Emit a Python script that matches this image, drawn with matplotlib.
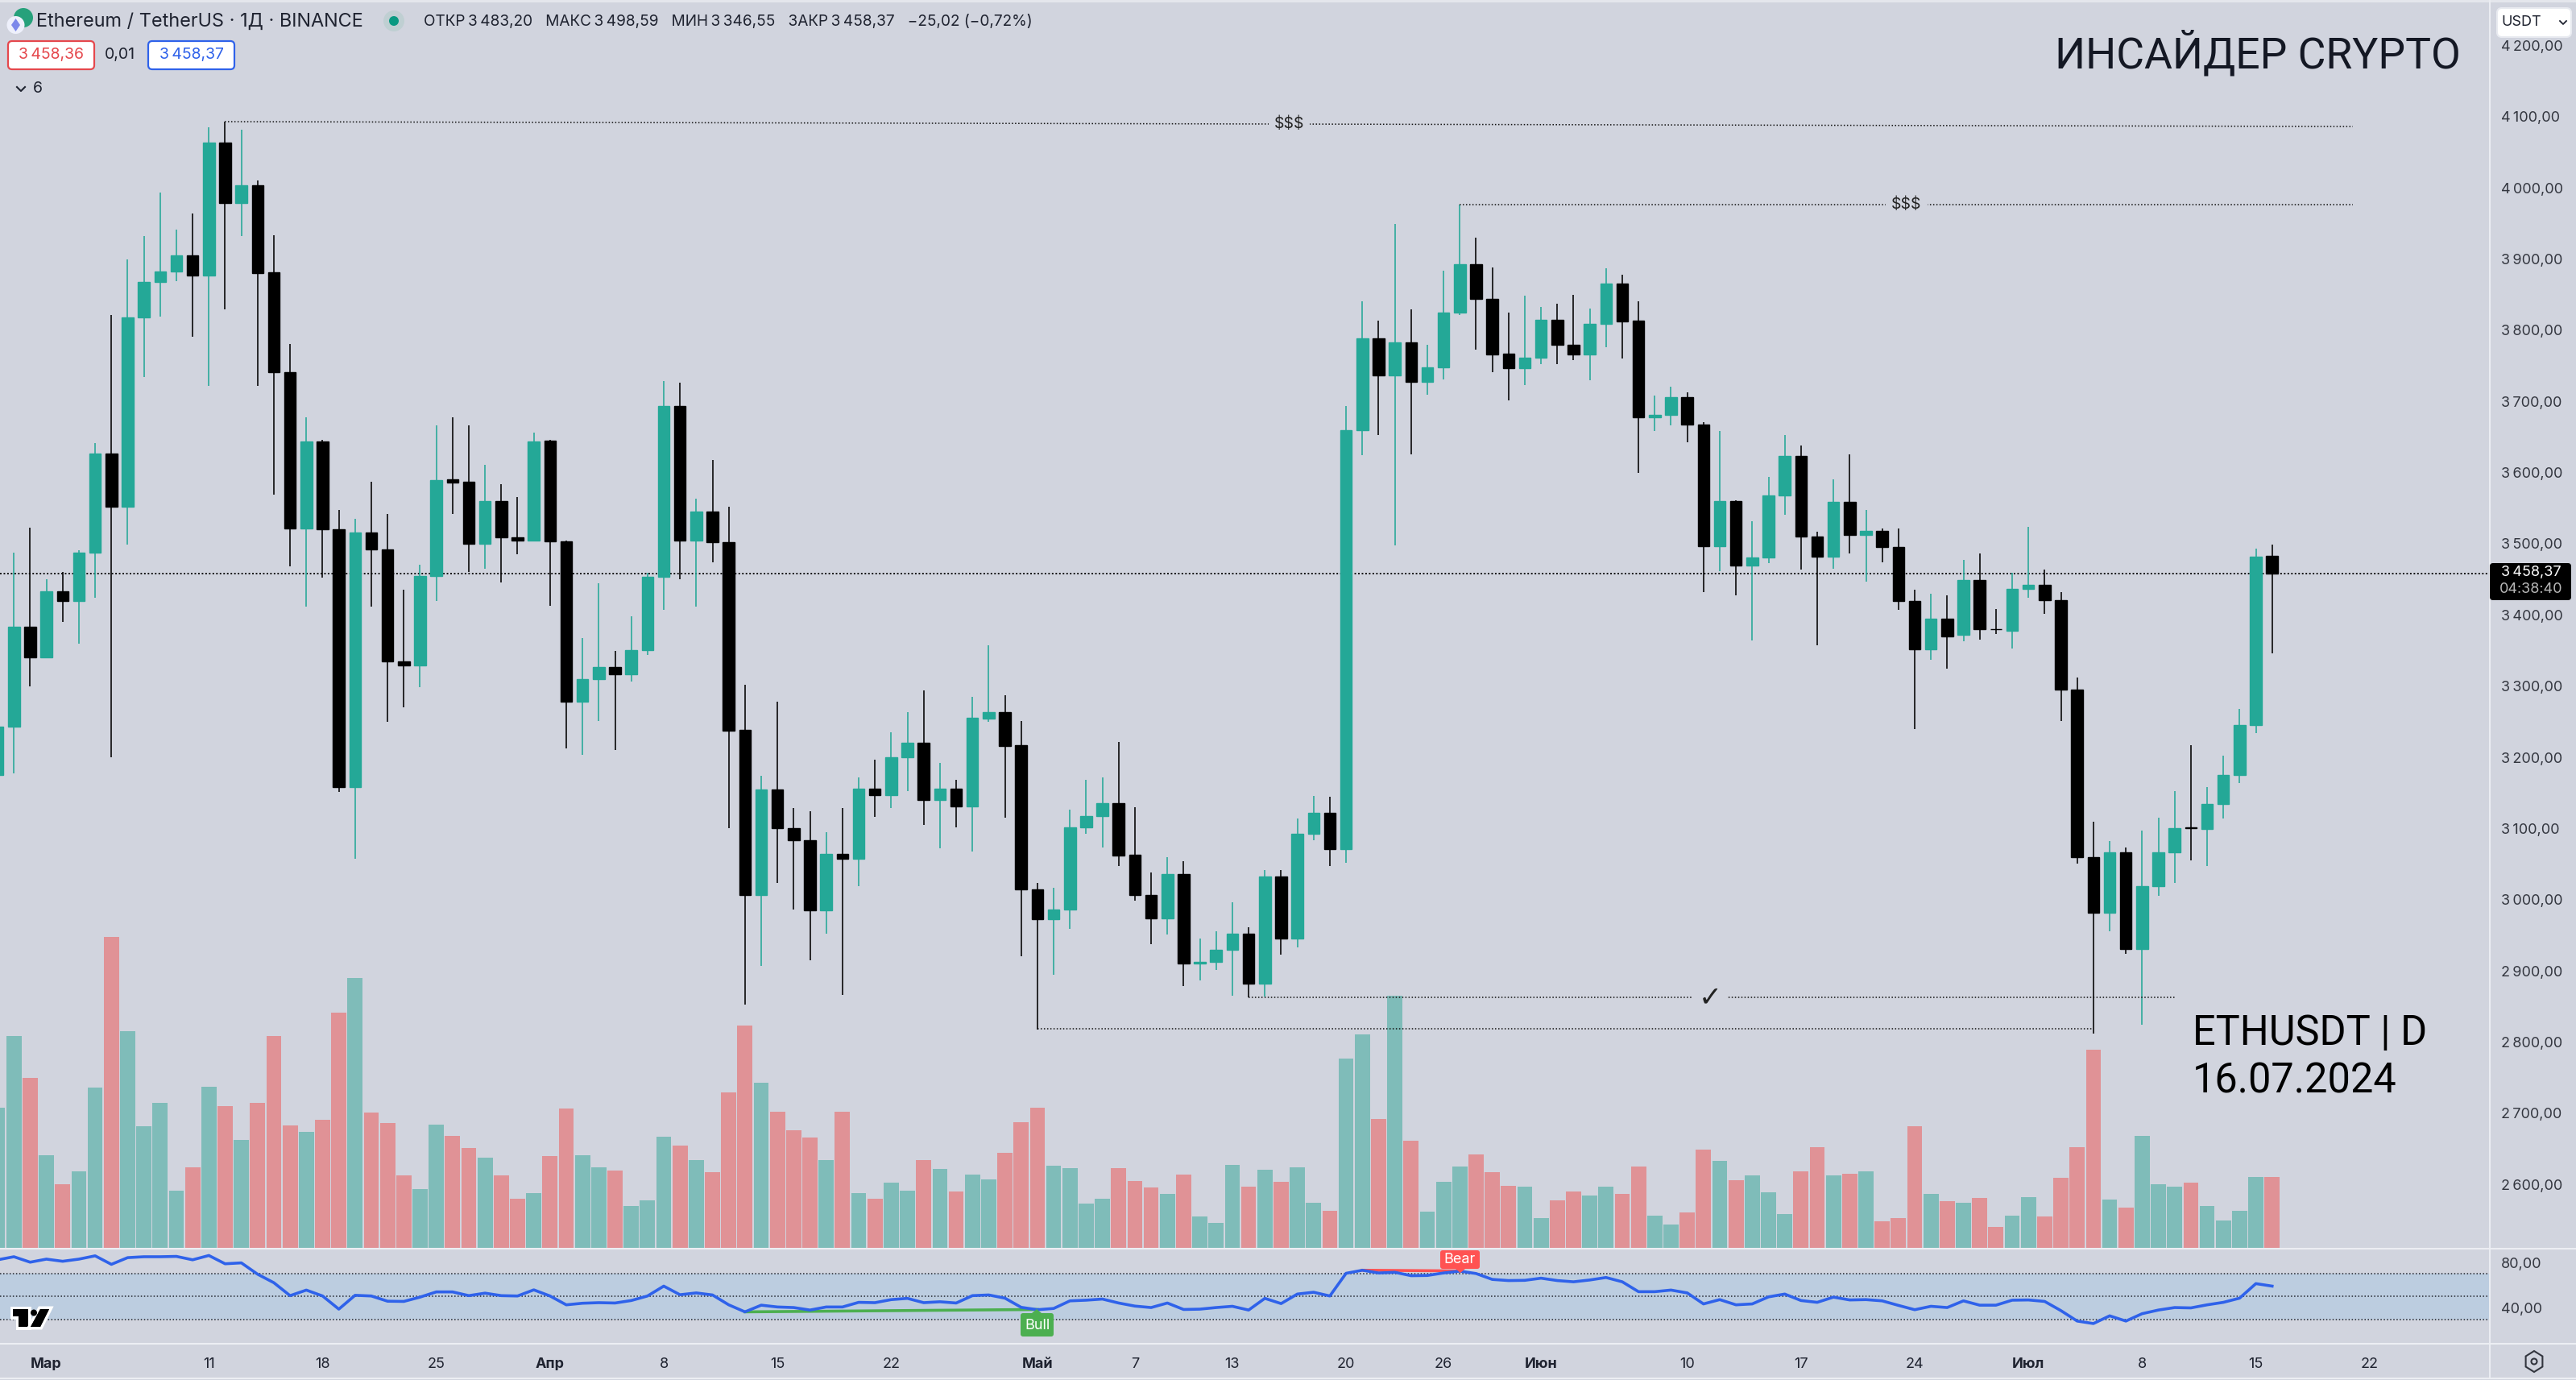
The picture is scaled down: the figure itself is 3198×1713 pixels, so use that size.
import numpy as np
import pandas as pd
import matplotlib
matplotlib.use("Agg")
import matplotlib.pyplot as plt
import matplotlib.dates as mdates
import matplotlib.patheffects as pe
from matplotlib.patches import FancyBboxPatch, Polygon, Circle, Rectangle

plt.rcParams['font.family'] = ['Inter', 'DejaVu Sans']

# ---------- data ----------
start_date = '2024-02-27'
opens = [3175,3243,3383,3340,3433,3420,3487,3627,3552,3818,3868,3882,3905,3877,4064,3979,4004,3881,3741,3522,
         3644,3520,3158,3516,3492,3335,3329,3455,3590,3587,3500,3560,3509,3504,3645,3503,3278,3310,3327,3317,
         3351,3454,3694,3505,3545,3502,3238,3006,3155,3101,3084,2985,3064,3057,3156,3147,3200,3220,3140,3156,
         3131,3254,3263,3217,3014,2973,2986,3102,3117,3136,3063,3006,2974,3036,2910,2912,2929,2952,2882,3033,
         2945,3092,3122,3071,3660,3789,3737,3783,3727,3748,3825,3893,3844,3767,3747,3761,3815,3780,3766,3809,
         3866,3813,3678,3681,3706,3667,3497,3560,3469,3481,3568,3623,3510,3482,3559,3512,3518,3495,3420,3352,
         3395,3372,3449,3380.2,3378,3437,3442,3421,3295,3060,2982,3067,2931,3019,3067,3101.3,3099,3134,3175,3245,3483.2]
highs = [3250,3487,3523,3450,3460,3491,3641,3821,3899,3932,3993,3941,3964,4085,4093,4082,4010,3933,3781,3678,
         3646,3547,3535,3587,3542,3435,3470,3666,3678,3666,3611,3584,3566,3656,3646,3505,3367,3444,3349,3398,
         3459,3729,3726,3563,3618,3552,3302,3174,3278,3129,3124,3095,3129,3172,3197,3235,3263,3294,3192,3168,
         3285,3357,3287,3251,3024,3017,3127,3168,3172,3221,3130,3038,3060,3054,2945,2955,2996,2961,3042,3042,
         3114,3146,3145,3693,3841,3813,3949,3829,3779,3884,3976,3930,3888,3825,3849,3833,3837,3850,3830,3887,
         3878,3841,3708,3721,3713,3671,3658,3561,3532,3594,3653,3638,3517,3590,3626,3547,3521,3521,3435,3430,
         3427,3477,3486,3408,3459,3524,3464,3432,3312,3110,3082,3073,3097,3115,3152,3217,3158,3202,3268,3493,3498.59]
lows = [3170,3177,3300,3339,3390,3360,3424,3200,3499,3734,3819,3869,3791,3722,3829,3932,3722,3569,3468,3412,
        3453,3151,3057,3412,3250,3270,3299,3420,3542,3460,3465,3446,3485,3504,3413,3213,3204,3251,3210,3307,
        3344,3407,3450,3412,3474,3101,2853,2907,3024,2986,2915,2952,2866,3019,3116,3129,3152,3105,3072,3102,
        3068,3250,3115,2921,2818,2894,2959,3093,3073,3047,2999,2937,2951,2879,2887,2901,2865,2863,2864,2923,
        2933,3083,3047,3052,3624,3653,3498,3626,3709,3731,3822,3773,3741,3702,3723,3752,3752,3758,3730,3776,
        3760,3600,3659,3666,3643,3432,3462,3428,3364,3473,3541,3464,3357,3465,3486,3447,3474,3407,3240,3337,
        3325,3363,3365,3373,3353,3424,3402,3251,3051,2812,2955,2924,2824,3005,3024,3055,3047,3114,3164,3234,3346.55]
closes = [3243,3383,3340,3433,3420,3487,3627,3552,3818,3868,3882,3905,3877,4064,3979,4004,3880,3741,3522,3644,
          3520,3158,3516,3492,3335,3329,3455,3589,3586,3500,3560,3509,3504,3644,3503,3278,3310,3327,3317,3351,
          3454,3694,3505,3545,3502,3237,3006,3155,3101,3083,2985,3064,3057,3156,3147,3200,3220,3140,3156,3131,
          3255,3263,3216,3014,2973,2986,3102,3117,3136,3062,3006,2974,3036,2910,2912,2929,2952,2882,3033,2945,
          3092,3122,3071,3660,3789,3737,3783,3727,3748,3825,3893,3844,3766,3747,3761,3815,3780,3766,3809,3866,
          3812,3678,3681,3706,3667,3497,3560,3469,3481,3568,3623,3510,3482,3559,3512,3518,3495,3420,3352,3395,
          3370,3449,3380,3380,3437,3442,3421,3295,3060,2982,3067,2931,3019,3067,3101,3101,3134,3175,3245,3482,3458.37]
volumes = [174,263,211,115,79,95,199,386,269,151,180,71,100,200,176,134,180,263,152,144,
           159,292,335,168,155,90,73,153,139,124,112,90,61,68,114,173,115,100,96,52,
           59,138,127,109,94,193,276,205,169,146,137,109,169,68,61,81,71,109,98,70,
           91,85,118,156,174,102,99,55,61,99,83,75,67,91,39,31,103,76,97,82,
           100,56,46,235,265,160,313,133,45,82,101,116,94,77,76,37,59,70,65,76,
           67,101,40,29,44,122,108,84,90,69,42,95,125,90,92,95,33,37,151,67,
           58,56,62,26,40,63,39,87,125,246,60,50,139,79,76,81,52,34,46,88,88]
rsi = [82.4,85.1,80.3,83.0,81.1,83.0,85.9,78.4,84.3,85.1,85.1,85.4,82.4,86.2,78.9,79.7,69.7,62.2,50.8,55.7,
       50.5,38.9,51.1,50.5,45.9,45.7,49.5,54.1,54.1,50.8,53.0,50.8,50.5,55.9,50.5,42.7,44.1,44.6,44.3,46.5,
       50.5,59.2,51.6,53.2,51.4,42.7,36.5,42.4,40.8,40.3,38.1,40.8,40.8,44.9,44.6,47.3,48.4,44.6,45.4,44.3,
       50.8,51.4,48.6,40.5,38.4,39.5,46.2,46.8,47.8,44.3,41.6,40.3,44.3,38.6,38.9,40.3,41.4,38.1,48.4,43.8,
       52.2,53.8,50.5,70.5,73.2,70.8,71.4,68.4,68.6,70.8,72.4,70.3,65.1,64.1,64.3,66.2,64.1,63.0,64.6,66.8,
       63.0,54.3,54.3,55.7,53.2,43.5,47.3,42.7,43.5,49.7,52.2,46.5,44.9,49.5,47.0,47.3,46.2,42.2,38.4,41.4,
       40.3,46.2,42.4,42.4,46.8,47.0,45.7,37.6,28.4,26.2,33.0,28.4,34.9,38.1,40.3,40.0,42.7,44.9,48.6,61.4,59.2]
time_ticks = ['2024-03-01','2024-03-11','2024-03-18','2024-03-25','2024-04-01','2024-04-08','2024-04-15','2024-04-22',
              '2024-05-01','2024-05-07','2024-05-13','2024-05-20','2024-05-26','2024-06-01','2024-06-10','2024-06-17',
              '2024-06-24','2024-07-01','2024-07-08','2024-07-15','2024-07-22']
time_labels = ['Мар','11','18','25','Апр','8','15','22','Май','7','13','20','26','Июн','10','17','24','Июл','8','15','22']
month_labels = {'Мар','Апр','Май','Июн','Июл'}
price_ticks = list(range(2600, 4300, 100))
rsi_ticks = [80, 40]
last_price = 3458.37
ask_price = '3\u202f458,37'

def fmt_price(v):
    s = f"{v:,.2f}".replace(',', '\u202f').replace('.', ',')
    return s

# ---------- layout ----------
W, H = 3198, 1713
BG = '#d1d4de'
TEAL = '#24a897'
VOL_TEAL = '#7fbcb9'
VOL_RED = '#e09296'
SEP = '#eceef3'
TXT = '#1f2330'
DOT = (0, (1, 1.6))
pane_r, price_b, rsi_b = 3091, 1549.3, 1668.4

def box(x0, y0, x1, y1):
    return [x0 / W, 1 - y1 / H, (x1 - x0) / W, (y1 - y0) / H]

fig = plt.figure(figsize=(W / 100, H / 100), dpi=100, facecolor=BG)
ax_vol = fig.add_axes(box(0, 0, pane_r, price_b), facecolor=BG)
ax = fig.add_axes(box(0, 0, pane_r, price_b), sharex=ax_vol, facecolor='none')
ax_rsi = fig.add_axes(box(0, price_b, pane_r, rsi_b), sharex=ax_vol, facecolor=BG)

dates = pd.date_range(start_date, periods=len(opens))
x = mdates.date2num(dates)
o, h, l, c = map(np.array, (opens, highs, lows, closes))
up = c > o
x0 = mdates.date2num(pd.Timestamp('2024-03-01'))
ax_vol.set_xlim(x0 - 2.856, x0 + 150.4)
ax.set_ylim(2510.4, 4264)
ax_vol.set_ylim(0, price_b)

# volume
ax_vol.bar(x, volumes, width=0.93, color=[VOL_TEAL if u else VOL_RED for u in up], linewidth=0)
ax_vol.set_yticks([])

# candles
ccol = [TEAL if u else '#000000' for u in up]
ax.vlines(x, l, h, colors=ccol, linewidth=1.15, zorder=3)
ax.bar(x, c - o, bottom=o, width=0.72, color=ccol, edgecolor=ccol, linewidth=1.0, zorder=4)

# last price line
ax.axhline(last_price, color='#111111', lw=1.4, ls=(0, (1, 1.3)), zorder=2)

# liquidity levels
def level(d0, d1, p0, p1):
    ax.plot([x0 + d0, x0 + d1], [p0, p1], color='#111111', lw=1.1, ls=DOT, zorder=5, snap=True)

level(11, 141.96, 4092.6, 4086)
level(87, 141.96, 3976.5, 3976.5)
level(74, 131, 2862.7, 2862.7)
level(61, 126, 2818.6, 2818.6)
txt_kw = dict(ha='center', va='center', color='#222222', zorder=6,
              bbox=dict(facecolor=BG, edgecolor='none', pad=5))
ax.text(x0 + 76.5, 4089.5, '$$$', fontsize=14, **txt_kw)
ax.text(x0 + 114.5, 3976.5, '$$$', fontsize=14, **txt_kw)
ax.text(x0 + 102.4, 2862.7, '\u2713', fontsize=25, family='DejaVu Sans', fontweight='bold', **txt_kw)

# price axis
ax.yaxis.tick_right()
ax.set_yticks(price_ticks)
ax.set_yticklabels([fmt_price(v) for v in price_ticks], fontsize=13, color='#33363f')
ax.tick_params(axis='y', length=0, pad=10)
ax.tick_params(axis='x', length=0, labelbottom=False)
ax_vol.tick_params(axis='x', length=0, labelbottom=False)

# RSI
ax_rsi.set_ylim(8.1, 92.7)
ax_rsi.axhspan(30, 70, color='#bccde0', lw=0, zorder=1)
for lev in (70, 50, 30):
    ax_rsi.axhline(lev, color='#23262f', lw=1.1, ls=DOT, zorder=2, snap=True)
ax_rsi.plot(x, rsi, color='#2f62ea', lw=2.6, zorder=4, solid_joinstyle='round')
ax_rsi.plot([x0 + 43, x0 + 61], [36.5, 38.6], color='#4caf50', lw=2.6, zorder=3)
ax_rsi.plot([x0 + 81, x0 + 87], [73.2, 72.6], color='#ff5252', lw=2.6, zorder=3)
ax_rsi.yaxis.tick_right()
ax_rsi.set_yticks(rsi_ticks)
ax_rsi.set_yticklabels([f"{v:.2f}".replace('.', ',') for v in rsi_ticks], fontsize=13, color='#33363f')
ax_rsi.tick_params(axis='y', length=0, pad=10)
ax_rsi.set_xticks(mdates.date2num(pd.to_datetime(time_ticks)))
ax_rsi.set_xticklabels(time_labels, fontsize=13, color=TXT)
ax_rsi.tick_params(axis='x', length=0, pad=12)
for t in ax_rsi.get_xticklabels():
    if t.get_text() in month_labels:
        t.set_fontweight('bold')

for a in (ax_vol, ax, ax_rsi):
    for s in a.spines.values():
        s.set_visible(False)

# ---------- overlay (pixel coordinates) ----------
ov = fig.add_axes([0, 0, 1, 1], facecolor='none', zorder=10)
ov.set_xlim(0, W)
ov.set_ylim(H, 0)
ov.axis('off')

def rbox(xa, ya, xb, yb, fc, ec='none', lw=0, r=5, z=2):
    ov.add_patch(FancyBboxPatch((xa, ya), xb - xa, yb - ya, boxstyle=f'round,pad=0,rounding_size={r}',
                                fc=fc, ec=ec, lw=lw, zorder=z))

ov.add_patch(Rectangle((0, 0), W, 2.5, fc='#e4e6ec', lw=0))
for yy in (price_b + 0.7, rsi_b, 1710.5):
    ov.plot([0, W], [yy, yy], color=SEP, lw=1.5)
ov.plot([pane_r, pane_r], [0, 1711], color=SEP, lw=1.4)

# header
ov.add_patch(Circle((29, 22), 12, fc='#26a17b', lw=0))
ov.add_patch(Circle((19.5, 31), 11, fc='#eef0fb', lw=0))
ov.add_patch(Polygon([(19.5, 23), (25, 31), (19.5, 39), (14, 31)], fc='#7c88ea', lw=0))
ov.text(45, 27, 'Ethereum / TetherUS · 1Д · BINANCE', fontsize=16.9, color=TXT, va='center', ha='left')
ov.add_patch(Circle((489, 26), 13, fc='#bfcfd2', lw=0))
ov.add_patch(Circle((489, 26), 6, fc='#089981', lw=0))
ov.text(526, 27, 'ОТКР\u20093\u202f483,20   МАКС\u20093\u202f498,59   МИН\u20093\u202f346,55   ЗАКР\u20093\u202f458,37   −25,02 (−0,72%)',
        fontsize=13.7, color=TXT, va='center', ha='left')
rbox(10, 51, 117, 86, 'white', '#e5484d', 1.6)
ov.text(63.5, 68.5, '3\u202f458,36', fontsize=14, color='#e5484d', ha='center', va='center')
ov.text(149, 68.5, '0,01', fontsize=14, color=TXT, ha='center', va='center')
rbox(184, 51, 291, 86, 'white', '#2f62ea', 1.6)
ov.text(237.5, 68.5, ask_price, fontsize=14, color='#2f62ea', ha='center', va='center')
ov.plot([21, 26, 31], [108, 113, 108], color=TXT, lw=1.5)
ov.text(47, 110, '6', fontsize=14, color=TXT, ha='center', va='center')

# titles
ov.text(3055, 84, 'ИНСАЙДЕР CRYPTO', fontsize=38.5, color='#141824', ha='right', va='baseline', family='Roboto')
ov.text(2722, 1296.6, 'ETHUSDT | D', fontsize=36.4, color='#000000', ha='left', va='baseline', family='Roboto')
ov.text(2722, 1356.4, '16.07.2024', fontsize=36.4, color='#000000', ha='left', va='baseline', family='Roboto')

# currency button
rbox(3100, 10, 3192, 46, 'white', '#e8eaf0', 1.5, r=6, z=5)
ov.text(3105, 28, 'USDT', fontsize=13, color=TXT, ha='left', va='center', zorder=6)
ov.plot([3178, 3182, 3186], [26, 30, 26], color=TXT, lw=1.3, zorder=6)

# last price tag
rbox(3091, 699, 3192, 745, '#000000', r=4, z=3)
ov.text(3142, 710, fmt_price(last_price), fontsize=13, color='white', ha='center', va='center', zorder=4)
ov.text(3142, 731, '04:38:40', fontsize=13, color='#b8b8b8', ha='center', va='center', zorder=4)

# Bull / Bear labels
rbox(1267, 1630, 1308, 1659, '#4caf50', r=3, z=6)
ov.add_patch(Polygon([(1281, 1630), (1287, 1625), (1293, 1630)], fc='#4caf50', lw=0, zorder=6))
ov.text(1287.5, 1645, 'Bull', fontsize=13, color='white', ha='center', va='center', zorder=7)
rbox(1788, 1552, 1837, 1575, '#ff5252', r=3, z=6)
ov.add_patch(Polygon([(1807, 1575), (1813, 1580), (1819, 1575)], fc='#ff5252', lw=0, zorder=6))
ov.text(1812.5, 1564, 'Bear', fontsize=13, color='white', ha='center', va='center', zorder=7)

# TradingView logo
stroke = [pe.withStroke(linewidth=5, foreground='white')]
for pts in ([(15.5, 1625), (35, 1625), (35, 1647), (23, 1647), (23, 1634), (15.5, 1634)],
            [(50, 1625), (61, 1625), (50, 1647), (38, 1647)]):
    p = Polygon(pts, fc='black', lw=0, zorder=5)
    p.set_path_effects(stroke + [pe.Normal()])
    ov.add_patch(p)
d = Circle((42, 1629.5), 4, fc='black', lw=0, zorder=5)
ov.add_patch(d)

# settings hexagon
ang = np.deg2rad(np.arange(30, 390, 60))
ov.add_patch(Polygon(np.c_[3146 + 12 * np.cos(ang), 1690 + 13 * np.sin(ang)], fc='none', ec='#33363f', lw=1.5))
ov.add_patch(Circle((3146, 1690), 3.5, fc='none', ec='#33363f', lw=1.5))

fig.savefig('out.png', dpi=100, facecolor=BG)
